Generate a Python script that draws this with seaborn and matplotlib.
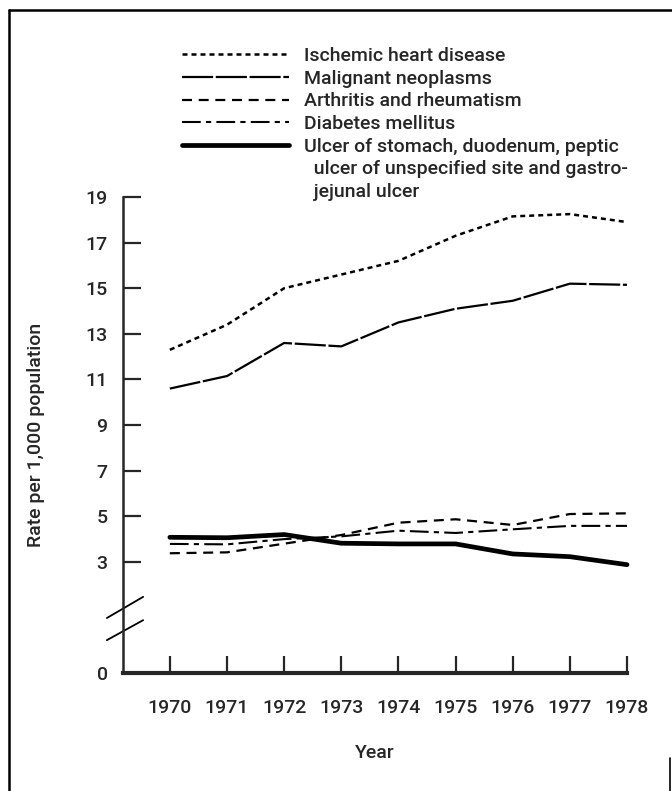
import numpy as np
import pandas as pd
import seaborn as sns
import matplotlib.pyplot as plt
from matplotlib.lines import Line2D

years = [1970, 1971, 1972, 1973, 1974, 1975, 1976, 1977, 1978]

ischemic = [12.3, 13.4, 15.0, 15.6, 16.2, 17.3, 18.15, 18.25, 17.9]
malignant = [10.6, 11.15, 12.6, 12.45, 13.5, 14.1, 14.45, 15.2, 15.15]
arthritis = [3.38, 3.42, 3.8, 4.18, 4.72, 4.87, 4.62, 5.1, 5.13]
diabetes = [3.79, 3.77, 4.0, 4.12, 4.37, 4.27, 4.43, 4.58, 4.58]
ulcer = [4.08, 4.06, 4.2, 3.82, 3.79, 3.79, 3.35, 3.23, 2.88]

series_names = [
    "Ischemic heart disease",
    "Malignant neoplasms",
    "Arthritis and rheumatism",
    "Diabetes mellitus",
    "Ulcer of stomach, duodenum, peptic",
]
ulcer_extra_lines = ["  ulcer of unspecified site and gastro-", "  jejunal ulcer"]
series_values = [ischemic, malignant, arthritis, diabetes, ulcer]

ytick_values = [3, 5, 7, 9, 11, 13, 15, 17, 19]
zero_pos = -1.87  # where the broken axis puts "0"

# line looks per series
styles = [
    dict(lw=1.8, dashes=(2.0, 1.6)),
    dict(lw=1.6, dashes=(14, 1.2)),
    dict(lw=1.6, dashes=(4.5, 3.0)),
    dict(lw=1.5, dashes=(9, 2.5, 2.5, 2.5)),
    dict(lw=3.4, dashes=()),
]

sns.set_style("ticks")
plt.rcParams['font.family'] = ['Roboto', 'DejaVu Sans']
plt.rcParams['font.weight'] = 500
plt.rcParams['axes.labelweight'] = 500

fig = plt.figure(figsize=(6.72, 7.91), dpi=100)
W, H = 672, 791
ax = fig.add_axes([123 / W, 1 - 673 / H, (627 - 123) / W, (673 - 197) / H])

df = pd.DataFrame({"Year": np.tile(years, len(series_names)),
                   "Rate": np.concatenate(series_values),
                   "Cause": np.repeat(series_names, len(years))})

handles = []
for name, st in zip(series_names, styles):
    sub = df[df["Cause"] == name]
    sns.lineplot(data=sub, x="Year", y="Rate", ax=ax, color="black",
                 linewidth=st["lw"], legend=False, clip_on=False)
    line = ax.lines[-1]
    if st["dashes"]:
        line.set_dashes(st["dashes"])
    handles.append(Line2D([], [], color="black", linewidth=st["lw"],
                          linestyle=(0, st["dashes"]) if st["dashes"] else "-"))

# continuation lines of the last label: entries without a visible handle
labels = series_names + ulcer_extra_lines
handles += [Line2D([], [], linestyle="none") for _ in ulcer_extra_lines]

ax.set_xlim(1969.18, 1978)
ax.set_ylim(zero_pos, 19)
ax.set_xticks(years)
ax.set_xticklabels([str(y) for y in years], fontsize=14)
ax.set_yticks([zero_pos] + ytick_values)
ax.set_yticklabels(["0"] + [str(v) for v in ytick_values], fontsize=14)
ax.tick_params(axis="y", direction="in", length=13, width=1.6, pad=11)
ax.tick_params(axis="x", direction="in", length=12, width=1.6, pad=19)

sns.despine(ax=ax)
ax.spines["left"].set_linewidth(1.8)
ax.spines["bottom"].set_linewidth(3.0)

ax.set_xlabel("Year", fontsize=14)
ax.set_ylabel("Rate per 1,000 population", fontsize=14)
ax.xaxis.set_label_coords(0.5, -0.15)
ax.yaxis.set_label_coords(-0.155, 0.5)

# axis break marks
for y0, y1 in [(0.1155, 0.160), (0.069, 0.111)]:
    ax.plot([-0.032, 0.040], [y0, y1], transform=ax.transAxes,
            color="black", lw=1.3, clip_on=False)

leg = fig.legend(handles, labels, loc="upper left",
                 bbox_to_anchor=(182 / W, 1 - 47 / H), frameon=False,
                 fontsize=14, handlelength=5.5, handletextpad=0.8,
                 labelspacing=0.24, borderpad=0, borderaxespad=0)

# outer frame
fig.add_artist(Line2D([9 / W, 9 / W], [0, 1 - 10 / H], color="black", lw=1.8))
fig.add_artist(Line2D([9 / W, 1], [1 - 10 / H, 1 - 10 / H], color="black", lw=1.8))
fig.add_artist(Line2D([670 / W, 670 / W], [0, 1 - 758 / H], color="black", lw=1.2))

fig.savefig("out.png", dpi=100)
